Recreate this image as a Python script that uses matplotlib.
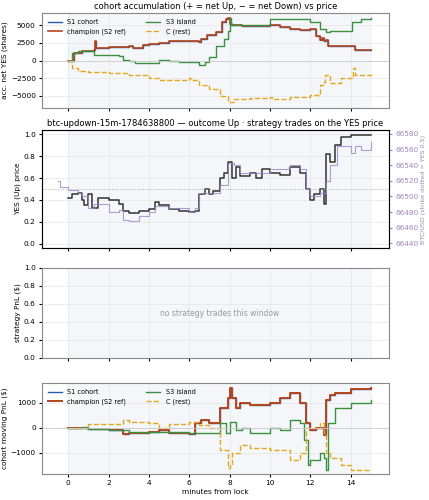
import matplotlib
matplotlib.use("Agg")
import matplotlib.pyplot as plt
import numpy as np

acc_x_ch = [0,0.3,0.7,1.0,1.3,1.34,1.4,2,3,3.2,3.7,4,4.5,5,5.5,6,6.5,6.6,6.9,7.3,7.6,7.8,7.9,8.0,8.1,8.6,9,10,10.5,11,11.5,12,12.3,12.5,12.6,12.7,12.8,12.9,13.5,14.2,15]
acc_ch =   [0,1000,1300,1400,1500,2800,1800,1900,2000,1700,2200,2300,2500,2800,2800,2800,2600,3000,3600,4000,5500,5800,6000,5200,5000,4800,4800,5000,4700,4500,4300,4400,3500,2900,3200,2700,2900,2000,2000,1500,1500]
acc_x_s3 = [0,0.2,0.5,1.3,2,2.5,2.7,3,3.3,4,4.5,5,5.5,6.5,6.8,7,7.3,7.7,7.9,8.0,8.05,9,10,11,12,12.5,12.8,13,14.0,14.05,14.5,15]
acc_s3 =   [0,1000,1300,800,800,700,100,-100,-400,-300,100,0,-200,-600,-200,500,2000,3000,4200,6000,5000,5000,5800,5800,5500,4500,4000,4200,4200,5500,5900,6000]
acc_x_c = [0,0.2,0.5,1,2,3,4,4.5,6,6.1,6.5,7,7.5,7.9,8.2,9,10,10.1,11,12,12.5,12.7,12.75,13,13.5,14,14.1,14.2,15]
acc_c =   [0,-1000,-1500,-1600,-1800,-2000,-2500,-2800,-2500,-2800,-3500,-4000,-5000,-5800,-5400,-5300,-5100,-5400,-5200,-4800,-3500,-3000,-2000,-3200,-2500,-2400,-1000,-2000,-1800]

yes_x = [0,0.2,0.5,0.7,0.8,1,1.2,1.5,2,2.5,2.7,3,3.5,4,4.3,4.5,5,5.5,6,6.3,6.5,6.8,7,7.2,7.5,7.7,7.9,8.1,8.3,8.5,9,9.3,9.6,10,10.5,11,11.5,11.8,12,12.2,12.5,12.7,12.8,13,13.2,13.5,14,15]
yes_p = [0.42,0.45,0.46,0.40,0.35,0.45,0.33,0.42,0.40,0.36,0.30,0.28,0.30,0.32,0.38,0.35,0.32,0.30,0.29,0.30,0.45,0.50,0.45,0.48,0.60,0.65,0.75,0.60,0.70,0.62,0.65,0.60,0.68,0.65,0.63,0.70,0.65,0.50,0.40,0.45,0.50,0.36,0.82,0.75,0.90,0.98,0.99,0.99]
btc_x = [-0.5,-0.4,0,0.5,0.7,1,1.3,1.5,2,2.5,2.7,3,3.5,4,4.3,5,6,6.3,6.5,7,7.5,7.9,8.2,8.5,9,10,11,11.5,11.8,12,12.5,12.8,13,13.3,14,14.2,14.5,15]
btc = [66520,66512,66508,66505,66500,66485,66490,66490,66480,66482,66470,66468,66475,66480,66488,66485,66480,66485,66505,66505,66515,66543,66540,66530,66530,66535,66540,66535,66510,66500,66505,66520,66540,66565,66555,66565,66560,66570]

pnl_x_ch = [0,1,2,2.7,3,4,4.5,5,6,6.3,6.6,7,7.5,7.9,8,8.1,8.3,8.5,9,10,10.5,11,11.5,11.8,12,12.3,12.7,12.8,13,13.2,14,15]
pnl_ch = [0,-50,-100,-250,-200,-150,-100,-200,-250,200,300,200,800,1200,1600,1200,800,1000,900,1000,1200,1400,1000,200,-100,0,-300,1100,1300,1400,1550,1600]
pnl_x_s3 = [0,0.7,1,2,3,4,5,6,7,7.5,7.8,8,8.3,8.6,9,10,10.5,11,11.5,11.7,11.9,12,12.5,12.7,12.8,12.9,13.2,14,15]
pnl_s3 = [0,50,-50,-100,-150,-150,-150,-200,-200,200,-200,250,-100,0,-200,0,-100,300,200,-500,-1500,-1300,-1000,-1200,-1700,200,800,1000,1100]
pnl_x_c = [0,1,2,2.7,3,4,4.5,5,6,6.5,7,7.5,7.9,8,8.1,8.5,9,10,11,11.5,11.8,12,12.5,12.7,12.8,13,13.5,14,15]
pnl_c = [0,150,150,300,250,200,0,150,250,100,0,-900,-1600,-1500,-1000,-700,-800,-900,-1300,-1000,0,0,200,-200,-1000,-1200,-1500,-1700,-1700]

plt.rcParams['font.size'] = 5.3
fig = plt.figure(figsize=(4.29, 5), dpi=100)
W, H = 429, 500
def ax_at(l, t, r, b):
    return fig.add_axes([l/W, 1-b/H, (r-l)/W, (b-t)/H])

CH = '#b5441c'; S1 = '#2060b0'; S3 = '#3a9040'; CC = '#e0a81a'; PUR = '#9a88c4'
XL = (-1.3, 15.9)

def style(ax):
    ax.set_xlim(*XL)
    ax.axvspan(0, 15, color='#eef0f7', alpha=0.6, zorder=0)
    ax.grid(True, color='#e6e6e6', lw=0.5)
    for s in ax.spines.values():
        s.set_color('#888888')
    ax.set_xticks([0,2,4,6,8,10,12,14])
    ax.tick_params(length=2.5, pad=2)

a1 = ax_at(42, 13, 389, 108)
style(a1)
a1.step(acc_x_ch, acc_ch, where='post', color=S1, lw=1, label='S1 cohort')
a1.step(acc_x_ch, acc_ch, where='post', color=CH, lw=1.2, label='champion (S2 ref)')
a1.step(acc_x_s3, acc_s3, where='post', color=S3, lw=1, label='S3 island')
a1.step(acc_x_c, acc_c, where='post', color=CC, lw=1, ls='--', label='C (rest)')
a1.axhline(0, color='#cccccc', lw=0.6)
a1.set_ylim(-6700, 6700)
a1.set_yticks([-5000,-2500,0,2500,5000])
a1.set_ylabel('acc. net YES (shares)', labelpad=2)
a1.set_title('cohort accumulation (+ = net Up, − = net Down) vs price', fontsize=6, pad=3)
a1.legend(loc='upper left', ncol=2, fontsize=4.7, frameon=False, handlelength=2.2, columnspacing=3)
a1.tick_params(labelbottom=False)

a2 = ax_at(42, 130, 389, 248)
style(a2)
a2.step(yes_x, yes_p, where='post', color='#333333', lw=1.1)
a2.set_ylim(-0.04, 1.04)
a2.set_ylabel('YES (Up) price', labelpad=2)
a2.set_title('btc-updown-15m-1784638800 — outcome Up · strategy trades on the YES price', fontsize=6, pad=3)
a2.tick_params(labelbottom=False)
b2 = a2.twinx()
b2.step(btc_x, btc, where='post', color=PUR, lw=0.8, alpha=0.8)
b2.axhline(66510, color='#aaaaaa', lw=0.7, ls=':')
b2.set_ylim(66434, 66585)
b2.set_yticks(range(66440, 66581, 20))
b2.tick_params(colors=PUR, length=2.5, pad=2)
b2.set_ylabel('BTC/USD (strike dotted = YES 0.5)', color=PUR, fontsize=4.6, labelpad=2)

a3 = ax_at(42, 268, 389, 358)
style(a3)
a3.set_ylim(0, 1)
a3.set_ylabel('strategy PnL ($)', labelpad=2)
a3.text(7.5, 0.5, 'no strategy trades this window', ha='center', va='center', color='#999999', fontsize=5.5)
a3.tick_params(labelbottom=False)

a4 = ax_at(42, 383, 389, 474)
style(a4)
a4.step(pnl_x_ch, pnl_ch, where='post', color=S1, lw=1, label='S1 cohort')
a4.step(pnl_x_ch, pnl_ch, where='post', color=CH, lw=1.4, label='champion (S2 ref)')
a4.step(pnl_x_s3, pnl_s3, where='post', color=S3, lw=1, label='S3 island')
a4.step(pnl_x_c, pnl_c, where='post', color=CC, lw=1, ls='--', label='C (rest)')
a4.axhline(0, color='#cccccc', lw=0.6)
a4.set_ylim(-1850, 1800)
a4.set_yticks([-1000, 0, 1000])
a4.set_ylabel('cohort moving PnL ($)', labelpad=2)
a4.set_xlabel('minutes from lock', labelpad=2)
a4.legend(loc='upper left', ncol=2, fontsize=4.7, frameon=False, handlelength=2.2, columnspacing=3)

fig.savefig('out.png', dpi=100)
